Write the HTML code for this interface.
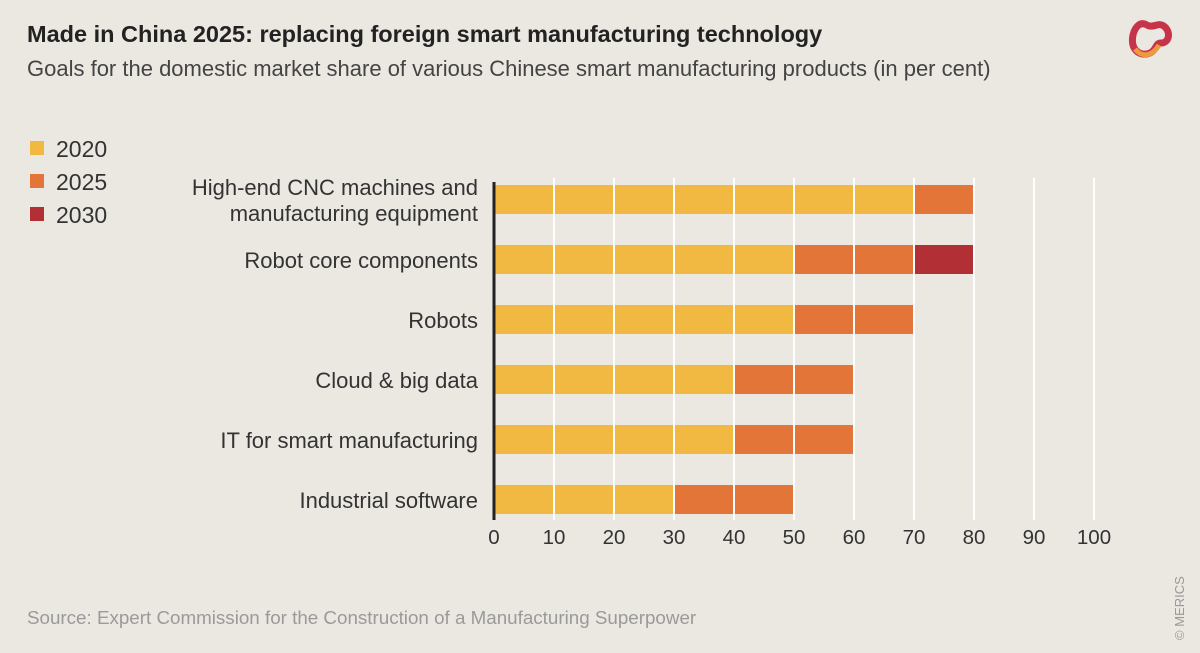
<!DOCTYPE html>
<html><head><meta charset="utf-8"><style>
body{margin:0;width:1200px;height:653px;background:#ebe7e1;font-family:"Liberation Sans",sans-serif;overflow:hidden;position:relative}
.t{position:absolute;white-space:nowrap}
</style></head><body>
<div class="t" style="left:27px;top:21px;font-size:23.5px;font-weight:bold;color:#222">Made in China 2025: replacing foreign smart manufacturing technology</div>
<div class="t" style="left:27px;top:56px;font-size:22px;color:#444">Goals for the domestic market share of various Chinese smart manufacturing products (in per cent)</div>
<svg style="position:absolute;left:1125px;top:15px" width="50" height="55" viewBox="0 0 50 55">
<path d="M8 20 C5 35 15 42 25 38 C32 35 30 28 36 28 C44 28 46 18 40 12 C34 6 28 14 22 10 C15 6 10 12 8 20Z" fill="none" stroke="#c7344a" stroke-width="7"/>
<path d="M10 34 C18 44 28 40 34 30" fill="none" stroke="#ee9a3c" stroke-width="5"/>
</svg>
<svg id="chart" style="position:absolute;left:0;top:0" width="1200" height="653"></svg>
<div class="t" style="left:27px;top:607px;font-size:18.8px;color:#9a9a9a">Source: Expert Commission for the Construction of a Manufacturing Superpower</div>
<div class="t" style="left:1172px;top:640px;font-size:13px;color:#999;transform:rotate(-90deg);transform-origin:0 0">© MERICS</div>
<script>
const categories=["High-end CNC machines and|manufacturing equipment","Robot core components","Robots","Cloud & big data","IT for smart manufacturing","Industrial software"];
const goal2020=[70,50,50,40,40,30];
const goal2025=[80,70,70,60,60,50];
const goal2030=[80,80,70,60,60,50];
const ticks=[0,10,20,30,40,50,60,70,80,90,100];
const seriesNames=["2020","2025","2030"];
const colors=["#f2b942","#e27537","#b22f35"];
const NS="http://www.w3.org/2000/svg";
const svg=document.getElementById('chart');
const x=v=>494+v*6;
const y=i=>200+i*60;
function mk(t,a){const e=document.createElementNS(NS,t);for(const k in a)e.setAttribute(k,a[k]);svg.appendChild(e);return e;}
categories.forEach((c,i)=>{
  const segs=[[0,goal2020[i]],[goal2020[i],goal2025[i]],[goal2025[i],goal2030[i]]];
  segs.forEach((s,j)=>{ if(s[1]>s[0]){
    const r=mk('rect',{x:x(s[0]),y:y(i)-15,width:x(s[1])-x(s[0]),height:29,fill:colors[j]});
    
    
  }});
  const lines=c.split('|');
  lines.forEach((l,k)=>{
    const t=mk('text',{x:478,y:y(i)+8+(k-(lines.length-1)/2)*26,'text-anchor':'end','font-size':22,fill:'#333'});
    t.textContent=l;
    
    
  });
});
ticks.forEach(v=>{
  if(v>0){const g=mk('line',{x1:x(v),x2:x(v),y1:178,y2:520,stroke:'#fff','stroke-width':2});
  
  }
  const t=mk('text',{x:x(v),y:544,'text-anchor':'middle','font-size':20.5,fill:'#333'});
  t.textContent=v;
  
  
});
const ax=mk('line',{x1:494,x2:494,y1:182,y2:520,stroke:'#222','stroke-width':3});


seriesNames.forEach((n,j)=>{
  const r=mk('rect',{x:30,y:141+j*33,width:14,height:14,fill:colors[j]});
  
  
  const t=mk('text',{x:56,y:157+j*33,'font-size':23,fill:'#333'});
  t.textContent=n;
  
  
});
</script>
</body></html>
